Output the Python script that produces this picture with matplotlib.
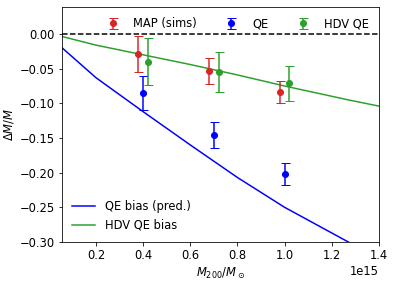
import numpy as np
import matplotlib
matplotlib.use("Agg")
import matplotlib.pyplot as plt

# cluster masses (units of 1e15 Msun)
masses = np.array([0.4, 0.7, 1.0])
map_bias = [-0.029, -0.053, -0.084]
map_err = [0.026, 0.019, 0.016]
qe_bias = [-0.085, -0.146, -0.202]
qe_err = [0.025, 0.019, 0.016]
hdv_bias = [-0.040, -0.055, -0.071]
hdv_err = [0.034, 0.029, 0.025]

# predicted bias curves
m_pred = np.array([0.05, 0.2, 0.4, 0.6, 0.8, 1.0, 1.27, 1.4])
qe_pred = [-0.018, -0.063, -0.112, -0.160, -0.207, -0.250, -0.300, -0.322]
hdv_pred = [-0.003, -0.016, -0.030, -0.044, -0.059, -0.075, -0.095, -0.104]

plt.rcParams['font.size'] = 11.5

fig = plt.figure(figsize=(395 / 72, 281 / 72), dpi=72)
ax = fig.add_axes([62 / 395, 39 / 281, 317 / 395, 235 / 281])
ax.axhline(0, color="k", ls="--")
l1, = ax.plot(m_pred * 1e15, qe_pred, color="blue", label="QE bias (pred.)")
l2, = ax.plot(m_pred * 1e15, hdv_pred, color="tab:green", label="HDV QE bias")
e1 = ax.errorbar((masses - 0.02) * 1e15, map_bias, yerr=map_err, fmt="o", color="tab:red",
                 capsize=4.5, label="MAP (sims)")
e2 = ax.errorbar(masses * 1e15, qe_bias, yerr=qe_err, fmt="o", color="blue",
                 capsize=4.5, label="QE")
e3 = ax.errorbar((masses + 0.02) * 1e15, hdv_bias, yerr=hdv_err, fmt="o", color="tab:green",
                 capsize=4.5, label="HDV QE")

ax.set_xlim(0.056e15, 1.4e15)
ax.set_ylim(-0.30, 0.039)
ax.set_xticks(np.arange(0.2, 1.41, 0.2) * 1e15)
ax.set_xlabel(r"$M_{200}/M_\odot$")
ax.set_ylabel(r"$\Delta M/M$")

leg1 = ax.legend(handles=[e1, e2, e3], loc="upper right", ncol=3, frameon=False)
ax.add_artist(leg1)
ax.legend(handles=[l1, l2], loc="lower left", frameon=False)

plt.savefig("out.png", dpi=72)
